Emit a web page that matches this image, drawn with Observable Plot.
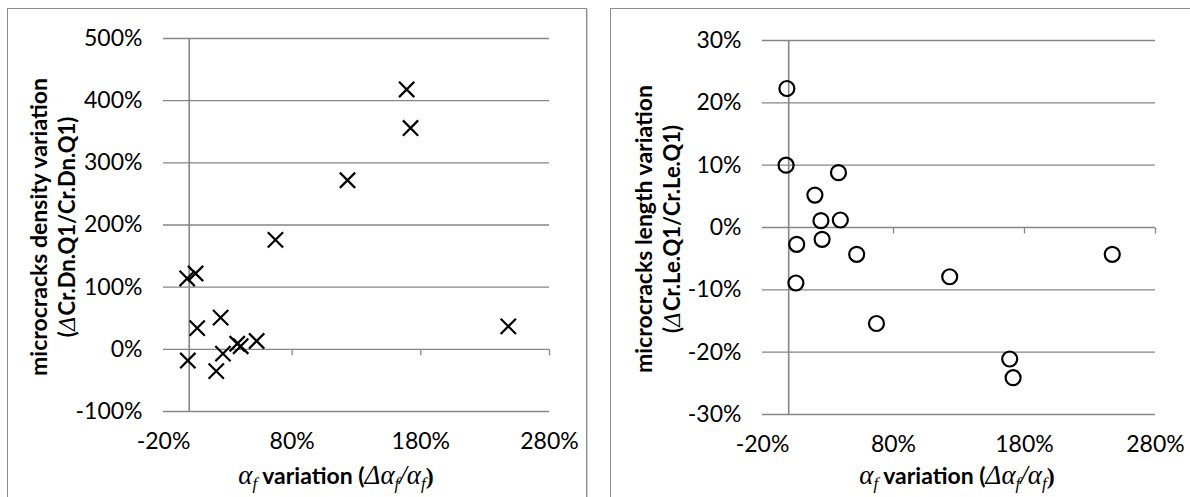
<!DOCTYPE html>
<html>
<head>
<meta charset="utf-8">
<script src="https://cdn.jsdelivr.net/npm/d3@7"></script>
<script src="https://cdn.jsdelivr.net/npm/@observablehq/plot@0.6"></script>
<style>
  html, body { margin: 0; padding: 0; background: #fff; }
  #wrap { position: relative; width: 1190px; height: 497px; overflow: hidden; background: #fff; }
  .frame { position: absolute; border: 1px solid #8c8c8c; box-shadow: 1px 1px 0 #d0d0d0; }
  .panel { position: absolute; top: 0; }
</style>
</head>
<body>
<div id="wrap">
  <div class="frame" style="left:7px; top:8px; width:578px; height:520px;"></div>
  <div class="frame" style="left:610px; top:8px; width:600px; height:520px;"></div>
  <div class="panel" id="left" style="left:0px;"></div>
  <div class="panel" id="right" style="left:595px;"></div>
</div>
<script>
// x: alpha_f variation (fraction), shared tick labels
const xTicks = [-0.2, 0.8, 1.8, 2.8];

// Left panel: microcracks density variation
const densityX = [-0.016, 0.049, 0.062, 0.244, -0.011, 0.21, 0.262, 0.373, 0.40, 0.524, 0.67, 1.23, 1.69, 1.72, 2.48];
const densityY = [1.14, 1.22, 0.34, 0.51, -0.18, -0.35, -0.07, 0.09, 0.05, 0.134, 1.76, 2.72, 4.18, 3.56, 0.37];
const densityTicks = [-1, 0, 1, 2, 3, 4, 5];

// Right panel: microcracks length variation
const lengthX = [-0.014, -0.02, 0.38, 0.20, 0.246, 0.394, 0.061, 0.255, 0.519, 0.055, 1.229, 0.67, 1.687, 1.713, 2.47];
const lengthY = [0.223, 0.100, 0.088, 0.052, 0.011, 0.012, -0.027, -0.019, -0.043, -0.089, -0.079, -0.154, -0.211, -0.241, -0.043];
const lengthTicks = [-0.3, -0.2, -0.1, 0, 0.1, 0.2, 0.3];

const GRID = "#868686";
const pct = d => Math.round(d * 100) + "%";
const tickDown = { draw(ctx) { ctx.moveTo(0, 0); ctx.lineTo(0, 6); } };

function panel({xs, ys, yTicks, yDomain, symbol, r, margins}) {
  const data = xs.map((x, i) => ({x, y: ys[i]}));
  return Plot.plot({
    width: 595,
    height: 497,
    ...margins,
    style: {fontFamily: "Lato, 'Open Sans', sans-serif", fontSize: "23px", color: "#000", background: "transparent", overflow: "visible"},
    x: {domain: [-0.2, 2.8], ticks: xTicks, tickFormat: pct},
    y: {domain: yDomain, ticks: yTicks, tickFormat: pct},
    marks: [
      Plot.gridY(yTicks, {stroke: GRID, strokeOpacity: 1, strokeWidth: 1.3}),
      Plot.ruleX([0], {stroke: GRID, strokeWidth: 1.6}),
      Plot.dot(xTicks.slice(1), {x: d => d, y: 0, symbol: tickDown, stroke: GRID, strokeWidth: 1.3, r: 1}),
      Plot.axisY(yTicks, {tickSize: 0, tickPadding: 21, tickFormat: pct, fontSize: 23, label: null}),
      Plot.axisX(xTicks, {tickSize: 0, tickPadding: 21, tickFormat: pct, fontSize: 23, label: null}),
      Plot.dot(data, {x: "x", y: "y", symbol, r, stroke: "#000", strokeWidth: 2.2, fill: "none"})
    ]
  });
}

function addTitles(svg, yLine1, yLine2Parts, yCenter, x1, x2, xTitleCenter) {
  const s = d3.select(svg);
  // y title, rotated
  const g = s.append("g").attr("transform", `translate(0,${yCenter}) rotate(-90)`)
    .attr("text-anchor", "middle").attr("fill", "#000");
  g.append("text").attr("x", 0).attr("y", x1)
    .style("font-family", "Lato, sans-serif").style("font-weight", "bold").style("font-size", "23px")
    .text(yLine1);
  const t2 = g.append("text").attr("x", 0).attr("y", x2)
    .style("font-family", "Lato, sans-serif").style("font-weight", "bold").style("font-size", "22px");
  for (const [txt, italic] of yLine2Parts) {
    const ts = t2.append("tspan").text(txt);
    if (italic) ts.style("font-style", "italic").style("font-family", "'DejaVu Serif', serif").style("font-weight", "normal");
  }
  // x title
  const xt = s.append("text").attr("x", xTitleCenter).attr("y", 484).attr("text-anchor", "middle")
    .attr("fill", "#000").style("font-size", "23px");
  const serifIt = (sel) => sel.style("font-family", "'Liberation Serif', serif").style("font-style", "italic").style("font-size", "27px");
  const sub = (sel) => sel.style("font-family", "'Liberation Serif', serif").style("font-style", "italic").style("font-size", "17px").attr("dy", 5);
  serifIt(xt.append("tspan").text("α"));
  sub(xt.append("tspan").text("f"));
  xt.append("tspan").attr("dy", -5).style("font-family", "Lato, sans-serif").style("font-weight", "bold").text(" variation (");
  serifIt(xt.append("tspan").text("Δα"));
  sub(xt.append("tspan").text("f"));
  serifIt(xt.append("tspan").attr("dy", -5).text("/α"));
  sub(xt.append("tspan").text("f"));
  xt.append("tspan").attr("dy", -5).style("font-family", "'Liberation Serif', serif").style("font-weight", "bold").style("font-size", "24px").text(")");
}

const left = panel({
  xs: densityX, ys: densityY, yTicks: densityTicks, yDomain: [-1, 5], symbol: "times", r: 7,
  margins: {marginLeft: 163, marginRight: 46, marginTop: 38, marginBottom: 86}
});
document.getElementById("left").appendChild(left);
addTitles(left, "microcracks density variation",
  [["(", false], ["Δ", true], ["Cr.Dn.Q1/Cr.Dn.Q1)", false]], 227, 47, 75, 336);

const right = panel({
  xs: lengthX, ys: lengthY, yTicks: lengthTicks, yDomain: [-0.3, 0.3], symbol: "circle", r: 7.5,
  margins: {marginLeft: 167, marginRight: 35, marginTop: 40, marginBottom: 83}
});
document.getElementById("right").appendChild(right);
addTitles(right, "microcracks length variation",
  [["(", false], ["Δ", true], ["Cr.Le.Q1/Cr.Le.Q1)", false]], 229, 57, 85, 362);
</script>
</body>
</html>
